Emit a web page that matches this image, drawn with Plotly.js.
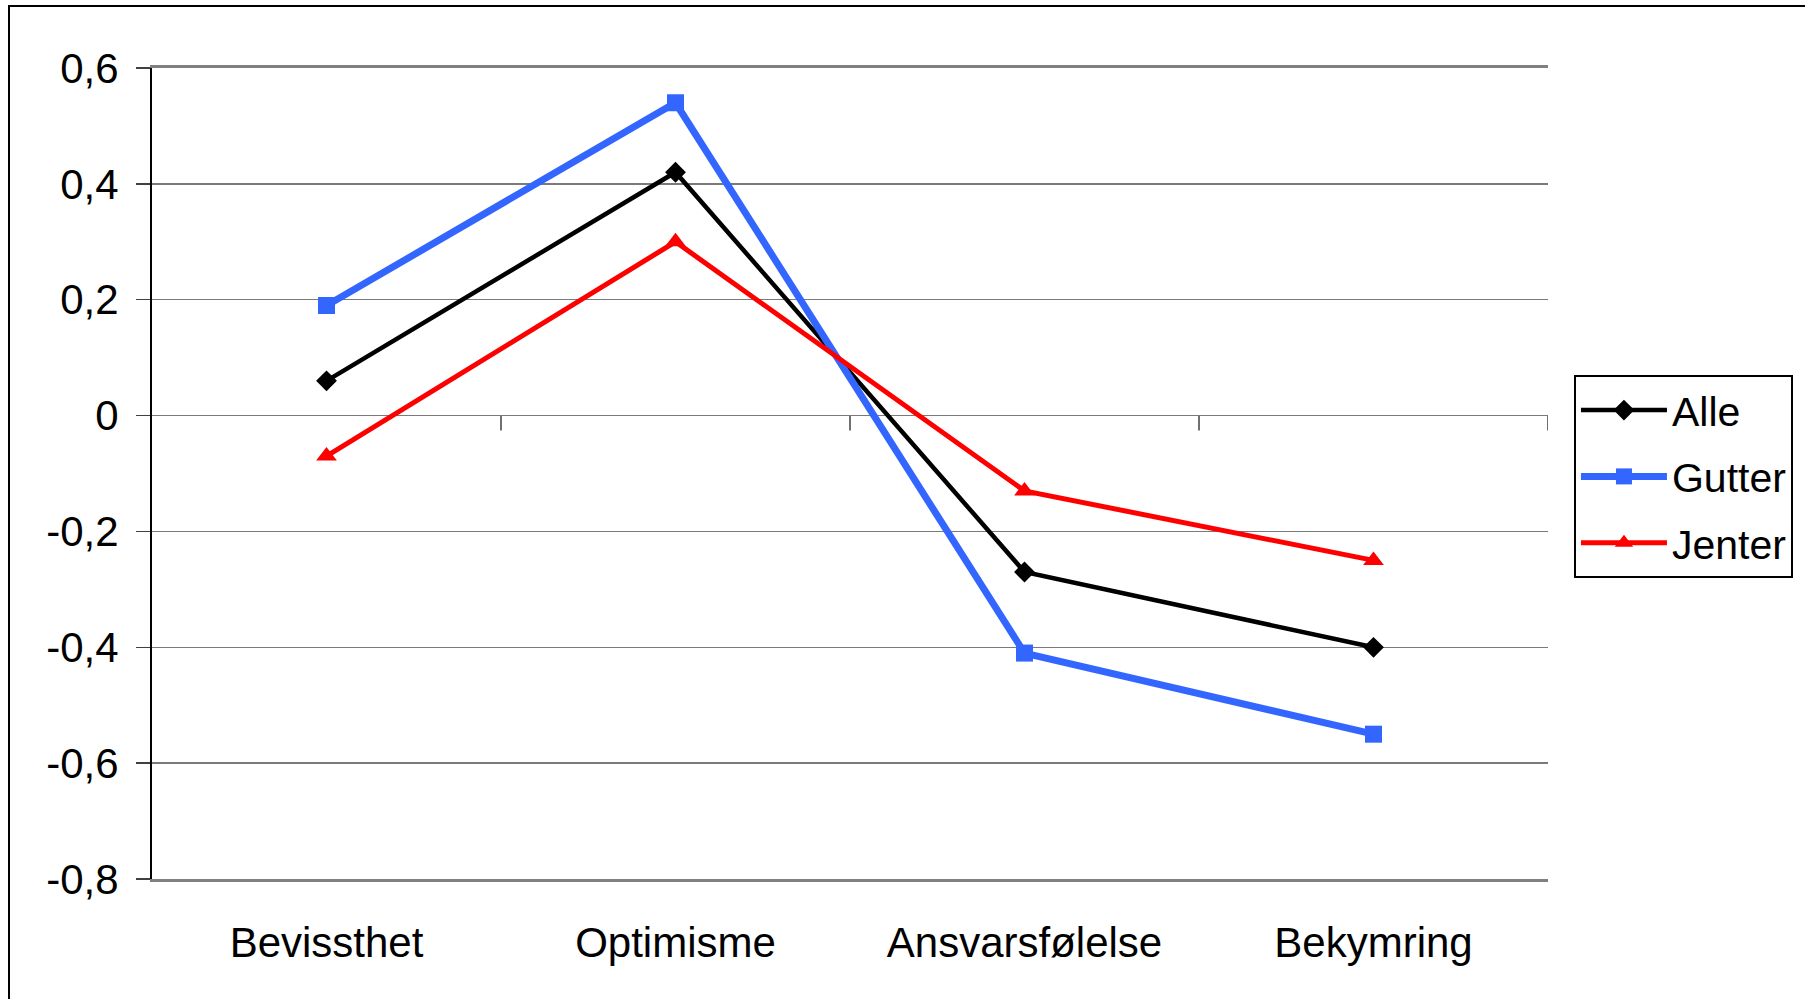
<!DOCTYPE html>
<html>
<head>
<meta charset="utf-8">
<script src="https://cdn.plot.ly/plotly-3.0.1.min.js"></script>
<style>
html,body{margin:0;padding:0;background:#fff;overflow:hidden;}
#chart{width:1805px;height:999px;position:absolute;left:0;top:0;}
#frame{position:absolute;left:8px;top:5px;width:1900px;height:1100px;border-left:2px solid #000;border-top:2px solid #000;pointer-events:none;}
</style>
</head>
<body>
<div id="chart"></div>
<div id="frame"></div>
<script>
const categories = ["Bevissthet", "Optimisme", "Ansvarsfølelse", "Bekymring"];
const alle   = [0.06, 0.42, -0.27, -0.40];
const gutter = [0.19, 0.54, -0.41, -0.55];
const jenter = [-0.07, 0.30, -0.13, -0.25];
const yTickVals = [-0.8, -0.6, -0.4, -0.2, 0, 0.2, 0.4, 0.6];
const yTickText = ["-0,8", "-0,6", "-0,4", "-0,2", "0", "0,2", "0,4", "0,6"];

const xIdx = categories.map((c, i) => i);
// category boundaries on the zero line (tick marks between categories)
const boundaries = categories.map((c, i) => i + 0.5);

const traces = [
  {x: xIdx, y: alle, name: "Alle", type: "scatter", mode: "lines+markers",
   legendgroup: "a",
   line: {color: "#000000", width: 4.5},
   marker: {symbol: "diamond", size: 16, color: "#000000"}},
  {x: xIdx, y: gutter, name: "Gutter", type: "scatter", mode: "lines+markers",
   legendgroup: "g",
   line: {color: "#3366FF", width: 7},
   marker: {symbol: "square", size: 17, color: "#3366FF"}},
  {x: xIdx, y: jenter, name: "Jenter", type: "scatter", mode: "lines+markers",
   legendgroup: "j",
   line: {color: "#FF0000", width: 5},
   marker: {symbol: "triangle-up", size: 18, color: "#FF0000"}}
];

const tickShapes = boundaries.map(b => ({
  type: "line", xref: "x", yref: "y",
  ysizemode: "pixel", yanchor: 0,
  x0: b, x1: b, y0: 0, y1: -15,
  line: {color: "#404040", width: 1.5},
  layer: "below"
}));

const layout = {
  width: 1805, height: 999,
  margin: {l: 152, r: 255, t: 68, b: 120},
  paper_bgcolor: "#ffffff",
  plot_bgcolor: "#ffffff",
  font: {family: "Liberation Sans, Arial, sans-serif", size: 42, color: "#000000"},
  showlegend: true,
  legend: {
    x: 1.0186, xanchor: "left", y: 0.6215, yanchor: "top",
    bgcolor: "#ffffff", bordercolor: "#000000", borderwidth: 2,
    font: {size: 41, color: "#000000"},
    traceorder: "grouped", tracegroupgap: 10,
    itemwidth: 86
  },
  shapes: tickShapes,
  xaxis: {
    range: [-0.5, 3.5],
    tickmode: "array", tickvals: xIdx, ticktext: categories,
    showgrid: false, zeroline: false,
    showline: true, linecolor: "#808080", linewidth: 3, mirror: true,
    ticks: "outside", ticklen: 25, tickcolor: "rgba(0,0,0,0)",
    tickfont: {size: 42}
  },
  yaxis: {
    range: [-0.8, 0.6],
    tickmode: "array", tickvals: yTickVals, ticktext: yTickText,
    showgrid: true, gridcolor: "#7a7a7a", gridwidth: 1.5,
    zeroline: false,
    showline: true, linecolor: "#000000", linewidth: 2,
    ticks: "outside", ticklen: 14, tickwidth: 1.5, tickcolor: "#404040",
    ticklabelstandoff: 9,
    tickfont: {size: 42}
  },
  yaxis2: {
    overlaying: "y", side: "right", range: [-0.8, 0.6],
    showticklabels: false, showgrid: false, zeroline: false, ticks: "",
    showline: true, linecolor: "#808080", linewidth: 3
  }
};

Plotly.newPlot("chart", traces, layout, {displayModeBar: false, staticPlot: true});
</script>
</body>
</html>
